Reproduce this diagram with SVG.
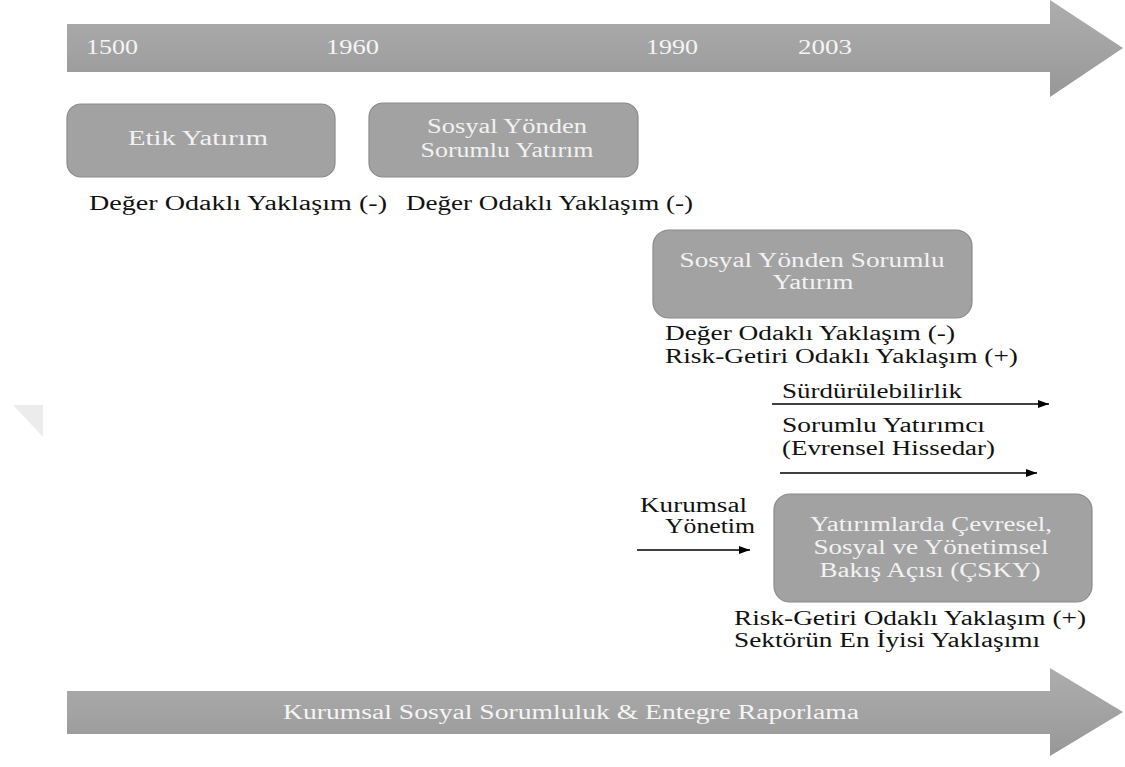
<svg xmlns="http://www.w3.org/2000/svg" width="1125" height="767" viewBox="0 0 1125 767">
<defs>
<linearGradient id="ag" x1="0" y1="0" x2="0" y2="1">
<stop offset="0" stop-color="#adadad"/>
<stop offset="0.5" stop-color="#a3a3a3"/>
<stop offset="1" stop-color="#979797"/>
</linearGradient>
<marker id="ah" markerWidth="11" markerHeight="8" refX="11" refY="4" orient="auto" markerUnits="userSpaceOnUse">
<path d="M0,0 L11,4 L0,8 Z" fill="#000"/>
</marker>
</defs>
<style>
.box{fill:#a2a2a2;stroke:#8a8a8a;stroke-width:1.2}
.bt{fill:#f2f2f2;text-anchor:middle}
.lt{fill:#111}
.yr{fill:#f5f5f5}
.con{stroke:#000;stroke-width:1.3;fill:none;marker-end:url(#ah)}
</style>
<rect width="1125" height="767" fill="#fff"/>
<polygon points="13,405 43,405 43,437" fill="#ececec"/>
<g id="timeline">
<polygon points="67,24 1050,24 1050,0 1123,48 1050,97 1050,72 67,72" fill="url(#ag)"/>
<text class="yr" font-family="Liberation Serif,serif" font-size="20" x="86" y="54" textLength="52" lengthAdjust="spacingAndGlyphs">1500</text>
<text class="yr" font-family="Liberation Serif,serif" font-size="20" x="326" y="54" textLength="53" lengthAdjust="spacingAndGlyphs">1960</text>
<text class="yr" font-family="Liberation Serif,serif" font-size="20" x="646" y="54" textLength="52" lengthAdjust="spacingAndGlyphs">1990</text>
<text class="yr" font-family="Liberation Serif,serif" font-size="20" x="798" y="54" textLength="54" lengthAdjust="spacingAndGlyphs">2003</text>
</g>
<g id="n1">
<rect class="box" x="67" y="104" width="268" height="73" rx="14"/>
<text class="bt" font-family="Liberation Serif,serif" font-size="20" x="198" y="145" textLength="140" lengthAdjust="spacingAndGlyphs">Etik Yatırım</text>
<text class="lt" font-family="Liberation Serif,serif" font-size="20" x="89" y="210" textLength="298" lengthAdjust="spacingAndGlyphs">Değer Odaklı Yaklaşım (-)</text>
</g>
<g id="n2">
<rect class="box" x="369" y="103" width="269" height="74" rx="14"/>
<text class="bt" font-family="Liberation Serif,serif" font-size="20" x="507" y="133" textLength="160" lengthAdjust="spacingAndGlyphs">Sosyal Yönden</text>
<text class="bt" font-family="Liberation Serif,serif" font-size="20" x="507" y="157" textLength="173" lengthAdjust="spacingAndGlyphs">Sorumlu Yatırım</text>
<text class="lt" font-family="Liberation Serif,serif" font-size="20" x="406" y="210" textLength="287" lengthAdjust="spacingAndGlyphs">Değer Odaklı Yaklaşım (-)</text>
</g>
<g id="n3">
<rect class="box" x="653" y="230" width="319" height="88" rx="16"/>
<text class="bt" font-family="Liberation Serif,serif" font-size="20" x="812" y="267" textLength="265" lengthAdjust="spacingAndGlyphs">Sosyal Yönden Sorumlu</text>
<text class="bt" font-family="Liberation Serif,serif" font-size="20" x="813" y="289" textLength="81" lengthAdjust="spacingAndGlyphs">Yatırım</text>
<text class="lt" font-family="Liberation Serif,serif" font-size="20" x="665" y="340" textLength="290" lengthAdjust="spacingAndGlyphs">Değer Odaklı Yaklaşım (-)</text>
<text class="lt" font-family="Liberation Serif,serif" font-size="20" x="665" y="363" textLength="353" lengthAdjust="spacingAndGlyphs">Risk-Getiri Odaklı Yaklaşım (+)</text>
</g>
<g id="n4">
<rect class="box" x="774" y="494" width="318" height="108" rx="16"/>
<text class="bt" font-family="Liberation Serif,serif" font-size="20" x="931" y="531" textLength="242" lengthAdjust="spacingAndGlyphs">Yatırımlarda Çevresel,</text>
<text class="bt" font-family="Liberation Serif,serif" font-size="20" x="931" y="554" textLength="235" lengthAdjust="spacingAndGlyphs">Sosyal ve Yönetimsel</text>
<text class="bt" font-family="Liberation Serif,serif" font-size="20" x="930" y="577" textLength="221" lengthAdjust="spacingAndGlyphs">Bakış Açısı (ÇSKY)</text>
<text class="lt" font-family="Liberation Serif,serif" font-size="20" x="734" y="625" textLength="352" lengthAdjust="spacingAndGlyphs">Risk-Getiri Odaklı Yaklaşım (+)</text>
<text class="lt" font-family="Liberation Serif,serif" font-size="20" x="734" y="647" textLength="306" lengthAdjust="spacingAndGlyphs">Sektörün En İyisi Yaklaşımı</text>
</g>
<g id="labels">
<text class="lt" font-family="Liberation Serif,serif" font-size="20" x="782" y="398" textLength="180" lengthAdjust="spacingAndGlyphs">Sürdürülebilirlik</text>
<text class="lt" font-family="Liberation Serif,serif" font-size="20" x="782" y="432" textLength="203" lengthAdjust="spacingAndGlyphs">Sorumlu Yatırımcı</text>
<text class="lt" font-family="Liberation Serif,serif" font-size="20" x="782" y="455" textLength="213" lengthAdjust="spacingAndGlyphs">(Evrensel Hissedar)</text>
<text class="lt" font-family="Liberation Serif,serif" font-size="20" x="640" y="512" textLength="107" lengthAdjust="spacingAndGlyphs">Kurumsal</text>
<text class="lt" font-family="Liberation Serif,serif" font-size="20" x="665" y="533" textLength="90" lengthAdjust="spacingAndGlyphs">Yönetim</text>
</g>
<g id="connectors">
<line class="con" x1="772" y1="404" x2="1049" y2="404"/>
<line class="con" x1="780" y1="473" x2="1037" y2="473"/>
<line class="con" x1="637" y1="550" x2="750" y2="550"/>
</g>
<g id="bottom">
<polygon points="67,691 1050,691 1050,668 1123,712 1050,756 1050,734 67,734" fill="url(#ag)"/>
<text font-family="Liberation Serif,serif" x="571" y="719" font-size="20" fill="#f5f5f5" text-anchor="middle" textLength="576" lengthAdjust="spacingAndGlyphs">Kurumsal Sosyal Sorumluluk &amp; Entegre Raporlama</text>
</g>
</svg>
